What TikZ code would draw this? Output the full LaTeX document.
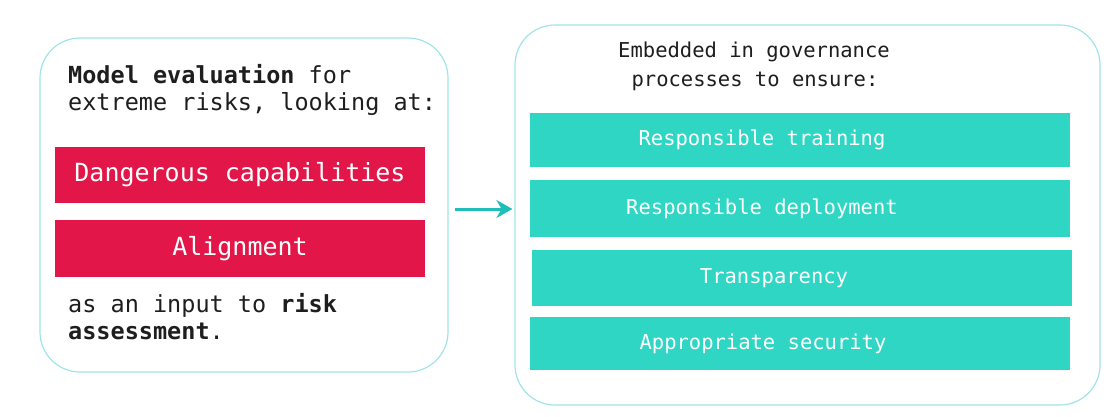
\documentclass[tikz,border=0pt]{standalone}
\usepackage{fontspec}
\setmonofont{DejaVu Sans Mono}
\usetikzlibrary{arrows.meta,calc}
\definecolor{redbox}{RGB}{226,22,72}
\definecolor{tealbox}{RGB}{46,214,195}
\definecolor{frame}{RGB}{160,228,234}
\definecolor{arrowc}{RGB}{30,190,185}
\definecolor{ink}{RGB}{30,30,30}
\tikzset{
  panel/.style={draw=frame, line width=1.2pt, rounded corners=40pt, fill=white, inner sep=0pt},
  redtag/.style={fill=redbox, draw=none, text=white, minimum width=370pt, inner sep=0pt, font=\ttfamily\fontsize{25}{29}\selectfont},
  tealtag/.style={fill=tealbox, draw=none, text=white, minimum width=540pt, inner sep=0pt},
  tealtext/.style={text=white, inner sep=0pt, font=\ttfamily\fontsize{20.5}{24}\selectfont},
  bodytext/.style={text=ink, inner sep=0pt, anchor=base west, font=\ttfamily\fontsize{23.5}{27}\selectfont},
  headtext/.style={text=ink, inner sep=0pt, anchor=base, font=\ttfamily\fontsize{20.5}{24}\selectfont},
  flow/.style={draw=arrowc, line width=3pt, -{Stealth[length=16pt,width=18pt]}}
}
\begin{document}
\begin{tikzpicture}[x=1pt,y=-1pt]
\useasboundingbox (0,0) rectangle (1113,417);
\node[panel, minimum width=408pt, minimum height=334pt] (lbox) at (244,205) {};
\node[panel, minimum width=585pt, minimum height=380pt] (rbox) at (807.5,215) {};

\node[bodytext] (l1) at (68,84) {\textbf{Model evaluation} for};
\node[bodytext] (l2) at (68,111) {extreme risks, looking at:};
\node[redtag, minimum height=56pt] (dc) at (240,175) {Dangerous capabilities};
\node[redtag, minimum height=57pt] (al) at (240,248.5) {Alignment};
\node[bodytext] (l3) at (68,312) {as an input to \textbf{risk}};
\node[bodytext] (l4) at (68,339) {\textbf{assessment}.};

\node[headtext] (h1) at (754,58) {Embedded in governance};
\node[headtext] (h2) at (755,87) {processes to ensure:};
\node[tealtag, minimum height=54pt] (t1) at (800,140) {};
\node[tealtag, minimum height=57pt] (t2) at (800,208.5) {};
\node[tealtag, minimum height=56pt] (t3) at (802,278) {};
\node[tealtag, minimum height=53pt] (t4) at (800,343.5) {};
\node[tealtext] (t1t) at ([xshift=-38pt]t1.center) {Responsible training};
\node[tealtext] (t2t) at ([xshift=-38pt]t2.center) {Responsible deployment};
\node[tealtext] (t3t) at ([xshift=-28pt]t3.center) {Transparency};
\node[tealtext] (t4t) at ([xshift=-37pt]t4.center) {Appropriate security};

\draw[flow] ($(lbox.east)+(6,4)$) -- ($(rbox.west)+(-2,-6)$);
\end{tikzpicture}
\end{document}
